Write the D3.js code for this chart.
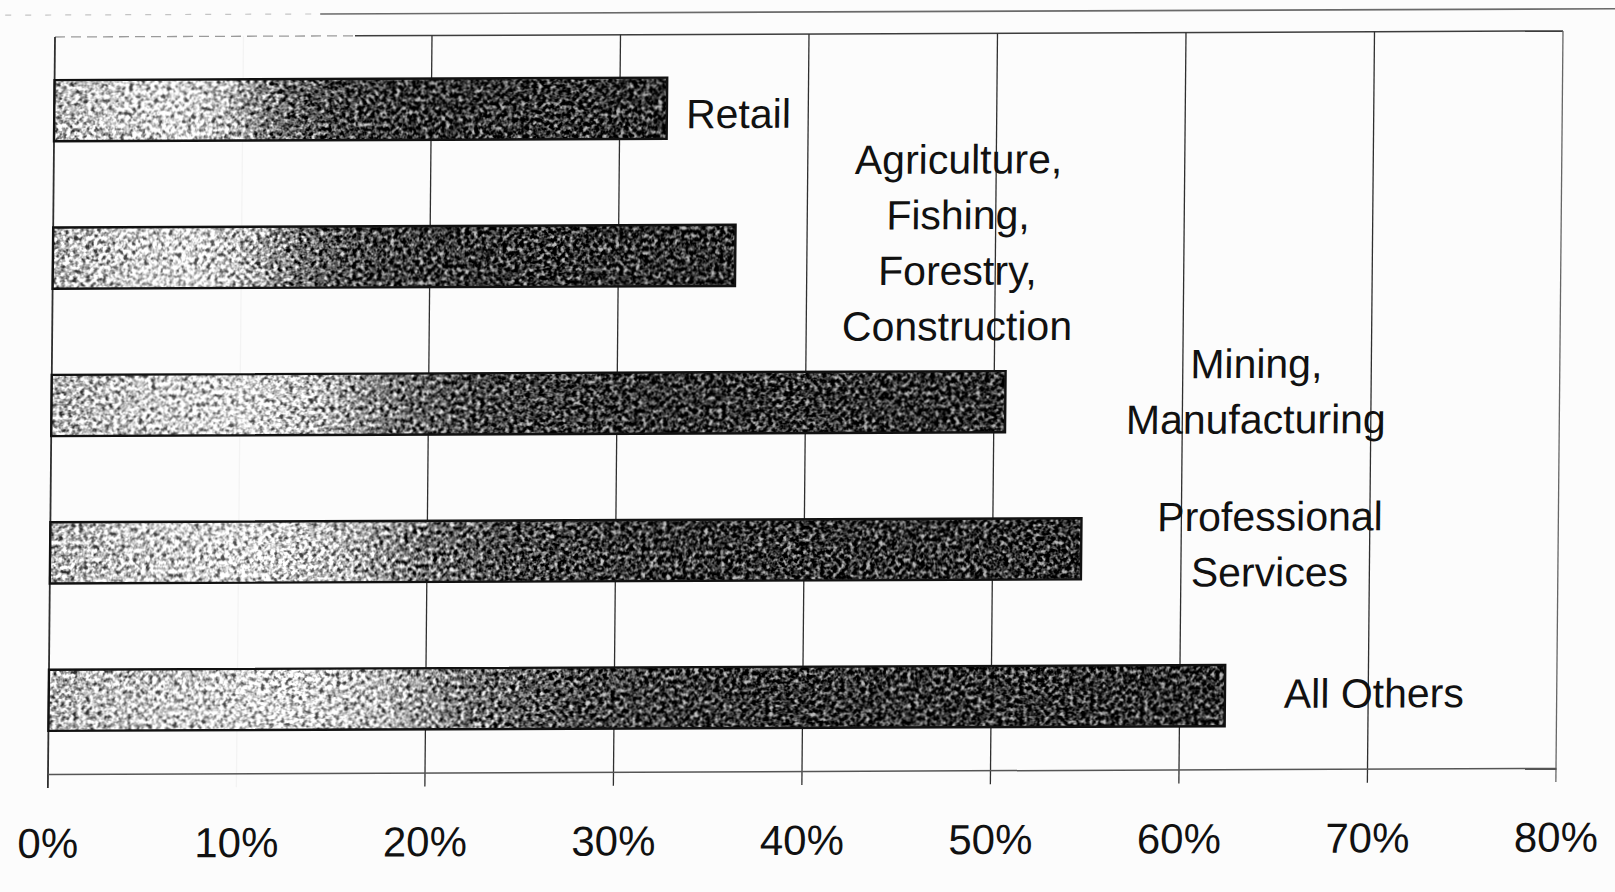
<!DOCTYPE html>
<html>
<head>
<meta charset="utf-8">
<script src="https://cdn.jsdelivr.net/npm/d3@7"></script>
<style>
  html, body { margin: 0; padding: 0; background: #fcfcfc; }
  svg { display: block; }
  text { font-family: "Liberation Sans", Arial, sans-serif; fill: #111; }
</style>
</head>
<body>
<svg id="chart" width="1615" height="892"></svg>
<script>
// Share of firms by industry
const categories = [
  "Retail",
  "Agriculture, Fishing, Forestry, Construction",
  "Mining, Manufacturing",
  "Professional Services",
  "All Others"
];
const labelLines = [
  ["Retail"],
  ["Agriculture,", "Fishing,", "Forestry,", "Construction"],
  ["Mining,", "Manufacturing"],
  ["Professional", "Services"],
  ["All Others"]
];
const shares = [32.5, 36.2, 50.6, 54.7, 62.4];
const tickValues = [0, 10, 20, 30, 40, 50, 60, 70, 80];
const tickLabels = ["0%", "10%", "20%", "30%", "40%", "50%", "60%", "70%", "80%"];

// Where each category label sits: centre along the value axis (in %) and
// vertical nudge from the bar centre (px)
const labelCenter = [36.3, 48.0, 63.9, 64.7, 70.3];
const labelNudge = [3, -14.5, -12, -6.5, -4.5];

const W = 1508, H = 737;
const svg = d3.select("#chart");

// ---- defs: bar gradient and print grain ----
const defs = svg.append("defs");
const grad = defs.append("linearGradient")
  .attr("id", "barFill")
  .attr("x1", 0).attr("x2", 1).attr("y1", 0).attr("y2", 0);
[
  [0.00, "#b4b4b4"], [0.10, "#cdcdcd"], [0.20, "#dddddd"], [0.28, "#bdbdbd"],
  [0.36, "#707070"], [0.45, "#444444"], [0.60, "#323232"], [1.00, "#2c2c2c"]
].forEach(([o, c]) => grad.append("stop").attr("offset", o).attr("stop-color", c));

const grain = defs.append("filter")
  .attr("id", "grain")
  .attr("x", 0).attr("y", 0).attr("width", 1).attr("height", 1)
  .attr("color-interpolation-filters", "sRGB");
grain.append("feTurbulence")
  .attr("type", "fractalNoise").attr("baseFrequency", 0.24)
  .attr("numOctaves", 2).attr("seed", 7).attr("result", "noise");
grain.append("feColorMatrix")
  .attr("in", "noise").attr("type", "matrix")
  .attr("values",
    "1.1 1.1 1.1 0 -1.15  1.1 1.1 1.1 0 -1.15  1.1 1.1 1.1 0 -1.15  0 0 0 0 1")
  .attr("result", "gray");
grain.append("feComposite")
  .attr("in", "SourceGraphic").attr("in2", "gray")
  .attr("operator", "arithmetic")
  .attr("k1", 0).attr("k2", 1).attr("k3", 1.1).attr("k4", -0.55)
  .attr("result", "mixed");
grain.append("feComposite")
  .attr("in", "mixed").attr("in2", "SourceGraphic").attr("operator", "in");

// ---- chart group (page is slightly skewed on the scanner bed) ----
const g = svg.append("g")
  .attr("transform", "matrix(1,-0.004,-0.0095,1,55,37)");

const x = d3.scaleLinear().domain([0, 80]).range([0, W]);
const y = d3.scaleBand().domain(categories).range([0, H])
  .paddingInner(0.585).paddingOuter(0.2925);

// outer frame line above the plot
g.append("line")
  .attr("x1", 265).attr("x2", 1575).attr("y1", -22).attr("y2", -22)
  .attr("stroke", "#6a6a6a").attr("stroke-width", 1.6);
g.append("line")
  .attr("x1", -50).attr("x2", 265).attr("y1", -22).attr("y2", -22)
  .attr("stroke", "#c4c4c4").attr("stroke-width", 1.2)
  .attr("stroke-dasharray", "6 14");

// plot top border
g.append("line")
  .attr("x1", 0).attr("x2", 300).attr("y1", 0).attr("y2", 0)
  .attr("stroke", "#9a9a9a").attr("stroke-width", 1.3)
  .attr("stroke-dasharray", "10 6");
g.append("line")
  .attr("x1", 300).attr("x2", W).attr("y1", 0).attr("y2", 0)
  .attr("stroke", "#3d3d3d").attr("stroke-width", 1.5);

// vertical gridlines (extend below the axis as tick marks)
g.append("g").selectAll("line")
  .data(tickValues)
  .join("line")
  .attr("x1", d => x(d)).attr("x2", d => x(d))
  .attr("y1", 0).attr("y2", H + 14)
  .attr("stroke", d => d === 80 ? "#666" : "#2f2f2f")
  .attr("stroke-width", d => d === 0 ? 1.8 : 1.3)
  .attr("opacity", d => d === 10 ? 0.04 : 1);

// bottom value axis
const xAxis = d3.axisBottom(x)
  .tickValues(tickValues)
  .tickFormat((d, i) => tickLabels[i])
  .tickSize(0)
  .tickSizeOuter(0)
  .tickPadding(54);
const ax = g.append("g").attr("transform", `translate(0,${H})`).call(xAxis);
ax.select(".domain").attr("stroke", "#555").attr("stroke-width", 1.5);
ax.selectAll(".tick text")
  .attr("font-size", 42)
  .attr("fill", "#111");

// bars
g.append("g").selectAll("rect")
  .data(shares)
  .join("rect")
  .attr("x", x(0))
  .attr("y", (d, i) => y(categories[i]))
  .attr("width", d => x(d) - x(0))
  .attr("height", y.bandwidth())
  .attr("fill", "url(#barFill)")
  .attr("filter", "url(#grain)");
g.append("g").selectAll("rect")
  .data(shares)
  .join("rect")
  .attr("x", x(0))
  .attr("y", (d, i) => y(categories[i]))
  .attr("width", d => x(d) - x(0))
  .attr("height", y.bandwidth())
  .attr("fill", "none")
  .attr("stroke", "#111")
  .attr("stroke-width", 2.4);

// category labels
const lineStep = 55.6;
const labels = g.append("g").selectAll("text")
  .data(categories)
  .join("text")
  .attr("text-anchor", "middle")
  .attr("font-size", 41);
labels.each(function (c, i) {
  const lines = labelLines[i];
  const cy = y(c) + y.bandwidth() / 2 + labelNudge[i];
  d3.select(this).selectAll("tspan")
    .data(lines)
    .join("tspan")
    .attr("x", x(labelCenter[i]))
    .attr("y", (t, k) => cy + (k - (lines.length - 1) / 2) * lineStep + 17)
    .text(t => t);
});
</script>
</body>
</html>
